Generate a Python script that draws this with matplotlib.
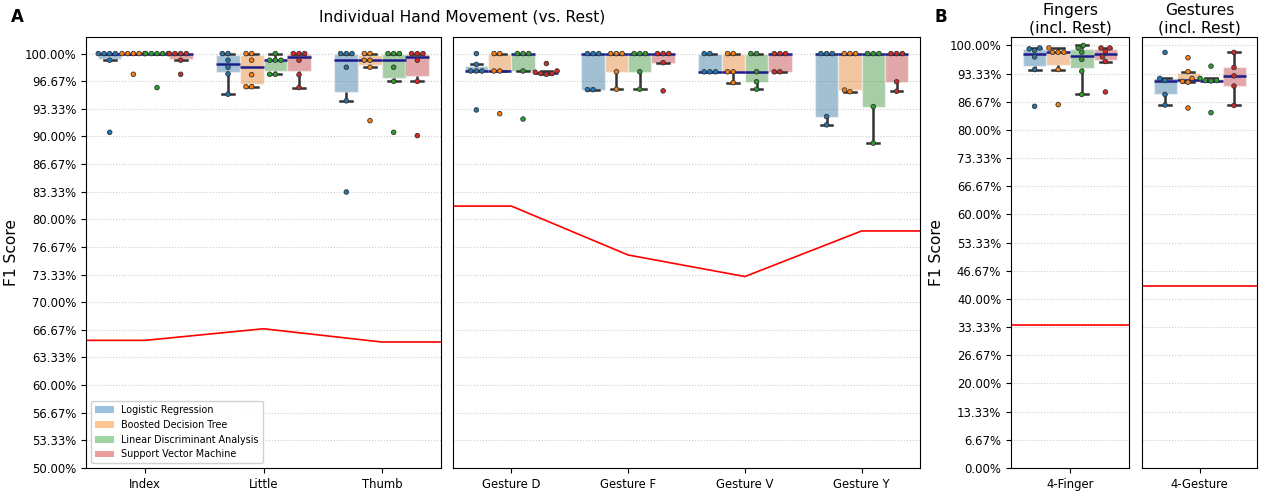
import numpy as np
import pandas as pd
import matplotlib
matplotlib.use("Agg")
import matplotlib.pyplot as plt
import seaborn as sns
from matplotlib.patches import Patch
from matplotlib.ticker import FormatStrFormatter

models = ["Logistic Regression", "Boosted Decision Tree",
          "Linear Discriminant Analysis", "Support Vector Machine"]
colors = ["#1f77b4", "#ff7f0e", "#2ca02c", "#d62728"]

# F1 scores (%) per movement, one list per model (LR, BDT, LDA, SVM)
index = [[100, 100, 100, 100, 99.2, 90.5],
         [100, 100, 100, 100, 100, 97.5],
         [100, 100, 100, 100, 100, 95.9],
         [100, 100, 100, 100, 99.2, 97.5]]
little = [[100, 100, 99.2, 98.35, 97.55, 95.1],
          [100, 100, 99.2, 97.45, 96.0, 96.0],
          [100, 99.2, 99.2, 99.2, 97.5, 97.5],
          [100, 100, 100, 99.2, 97.45, 95.9]]
thumb = [[100, 100, 100, 98.35, 94.3, 83.3],
         [100, 100, 99.2, 99.2, 98.35, 91.9],
         [100, 100, 100, 98.35, 96.65, 90.5],
         [100, 100, 100, 99.2, 96.65, 90.1]]
gesture_d = [[100, 98.7, 97.9, 97.9, 97.9, 93.2],
             [100, 100, 97.9, 97.9, 92.75],
             [100, 100, 100, 97.9, 92.1],
             [98.8, 97.9, 97.75, 97.6, 97.6, 97.5]]
gesture_f = [[100, 100, 100, 95.65, 95.65],
             [100, 100, 100, 97.8, 95.7],
             [100, 100, 100, 97.8, 95.7],
             [100, 100, 100, 98.9, 95.5]]
gesture_v = [[100, 100, 97.8, 97.8, 97.8],
             [100, 100, 97.8, 97.8, 96.5],
             [100, 100, 97.8, 96.6, 95.7],
             [100, 100, 100, 97.8, 97.8]]
gesture_y = [[100, 100, 100, 92.4, 91.4],
             [100, 100, 100, 95.6, 95.4],
             [100, 100, 100, 93.6, 89.2],
             [100, 100, 100, 96.6, 95.45]]
four_finger = [[99.4, 99.2, 98.8, 97.3, 94.3, 85.6],
               [99.4, 98.4, 98.4, 98.4, 94.3, 86.0],
               [100, 99.4, 98.4, 96.7, 93.9, 88.4],
               [99.4, 99.4, 98.6, 97.3, 96.2, 89.0]]
four_gesture = [[98.35, 92.2, 91.7, 88.4, 85.9],
                [97.1, 93.8, 92.2, 91.5, 91.3, 85.2],
                [95.1, 92.2, 91.7, 91.7, 91.6, 84.1],
                [98.35, 94.8, 92.8, 90.4, 85.8]]

finger_cats = ["Index", "Little", "Thumb"]
gesture_cats = ["Gesture D", "Gesture F", "Gesture V", "Gesture Y"]

# chance level (%)
chance_fingers = [65.4, 66.8, 65.2]
chance_gestures = [81.6, 75.7, 73.1, 78.6]
chance_four_finger = [33.8]
chance_four_gesture = [43.0]

TICK = 8.4
LAB = 11.2


def long_df(cats, groups):
    rows = []
    for c, g in zip(cats, groups):
        for m, vals in zip(models, g):
            for v in vals:
                rows.append((c, m, v))
    return pd.DataFrame(rows, columns=["cat", "model", "score"])


def panel(ax, cats, groups, chance):
    d = long_df(cats, groups)
    sns.boxplot(data=d, x="cat", y="score", hue="model", order=cats,
                hue_order=models, palette=colors, showfliers=False,
                width=0.8, gap=0, ax=ax, legend=False, linewidth=1.8,
                boxprops=dict(alpha=0.45, edgecolor="white", linewidth=1),
                medianprops=dict(color="#1c1c8c", linewidth=1.8),
                whiskerprops=dict(color="#333333", linewidth=1.8),
                capprops=dict(color="#333333", linewidth=1.8))
    sns.swarmplot(data=d, x="cat", y="score", hue="model", order=cats,
                  hue_order=models, palette=colors, dodge=True, size=3.3,
                  edgecolor="#333333", linewidth=0.6, ax=ax, legend=False)
    n = len(cats)
    xs = [-0.5] + list(range(n)) + [n - 0.5]
    ys = [chance[0]] + list(chance) + [chance[-1]]
    ax.plot(xs, ys, color="red", lw=1.2, zorder=1)
    ax.set_xlim(-0.5, n - 0.5)
    ax.set_xlabel("")
    ax.set_ylabel("")
    ax.yaxis.grid(True, linestyle=":", color="#cccccc", lw=0.8)
    ax.set_axisbelow(True)
    ax.yaxis.set_major_formatter(FormatStrFormatter("%.2f%%"))
    ax.tick_params(labelsize=TICK)


fig = plt.figure(figsize=(12.63, 4.91), dpi=100)
W, H = 1263, 491


def box(l, r, t=37, b=468):
    return [l / W, (H - b) / H, (r - l) / W, (b - t) / H]


a1 = fig.add_axes(box(86, 441))
a2 = fig.add_axes(box(453, 920))
b1 = fig.add_axes(box(1011, 1129))
b2 = fig.add_axes(box(1142, 1257))

panel(a1, finger_cats, [index, little, thumb], chance_fingers)
panel(a2, gesture_cats, [gesture_d, gesture_f, gesture_v, gesture_y], chance_gestures)
panel(b1, ["4-Finger"], [four_finger], chance_four_finger)
panel(b2, ["4-Gesture"], [four_gesture], chance_four_gesture)

for ax in (a1, a2):
    ax.set_ylim(50, 102)
    ax.set_yticks(np.linspace(50, 100, 16))
for ax in (b1, b2):
    ax.set_ylim(0, 102)
    ax.set_yticks(np.linspace(0, 100, 16))
for ax in (a2, b2):
    ax.tick_params(left=False, labelleft=False)

a1.set_ylabel("F1 Score", fontsize=LAB)
b1.set_ylabel("F1 Score", fontsize=LAB)
b1.set_title("Fingers\n(incl. Rest)", fontsize=LAB, pad=3)
b2.set_title("Gestures\n(incl. Rest)", fontsize=LAB, pad=3)

handles = [Patch(facecolor=c, alpha=0.45) for c in colors]
a1.legend(handles, models, loc="lower left", fontsize=6.9, framealpha=0.9)

fig.text(462 / W, 1 - 17 / H, "Individual Hand Movement (vs. Rest)",
         ha="center", va="center", fontsize=LAB)
fig.text(17 / W, 1 - 17 / H, "A", ha="center", va="center",
         fontsize=12, fontweight="bold")
fig.text(941 / W, 1 - 17 / H, "B", ha="center", va="center",
         fontsize=12, fontweight="bold")

fig.savefig("out.png", dpi=100)
